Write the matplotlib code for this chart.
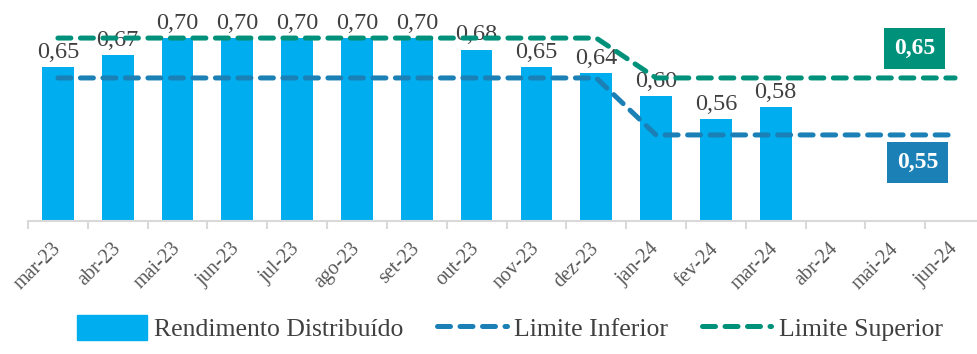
import matplotlib.pyplot as plt
from matplotlib.patches import Patch
from matplotlib.lines import Line2D

plt.rcParams['font.family'] = ['Liberation Serif', 'DejaVu Serif']

months = ['mar-23', 'abr-23', 'mai-23', 'jun-23', 'jul-23', 'ago-23', 'set-23', 'out-23',
          'nov-23', 'dez-23', 'jan-24', 'fev-24', 'mar-24', 'abr-24', 'mai-24', 'jun-24']
rendimento = [0.65, 0.67, 0.70, 0.70, 0.70, 0.70, 0.70, 0.68, 0.65, 0.64, 0.60, 0.56, 0.58]
limite_inf = [0.65] * 10 + [0.55] * 6
limite_sup = [0.72] * 10 + [0.65] * 6

bar_color = '#00AEEF'
inf_color = '#1A80B6'
sup_color = '#00917A'
txt_color = '#404040'

fig = plt.figure(figsize=(9.77, 3.54), dpi=100)
ax = fig.add_axes([28 / 977, 133 / 354, 957 / 977, 216 / 354])
ax2 = ax.twinx()

x = list(range(len(months)))
bars = ax.bar(x[:len(rendimento)], rendimento, width=0.53, color=bar_color, zorder=2)
for b, v in zip(bars, rendimento):
    ax.annotate(f'{v:.2f}'.replace('.', ','), (b.get_x() + b.get_width() / 2, v),
                xytext=(0, 3), textcoords='offset points', ha='center', va='bottom',
                fontsize=17.5, color=txt_color, zorder=5)

ls = dict(linewidth=3.6, dashes=(2.6, 1.9), dash_capstyle='round')
ax2.plot(x, limite_inf, color=inf_color, **ls)
ax2.plot(x, limite_sup, color=sup_color, **ls)

box_kw = dict(textcoords='offset points', ha='center', va='center',
              fontsize=17, fontweight='bold', color='white')
ax2.annotate(f'{limite_sup[-1]:.2f}'.replace('.', ','), (x[-1], limite_sup[-1]),
             xytext=(-29, 21), bbox=dict(boxstyle='square,pad=0.42', fc=sup_color, ec='none'),
             **box_kw)
ax2.annotate(f'{limite_inf[-1]:.2f}'.replace('.', ','), (x[-1], limite_inf[-1]),
             xytext=(-27, -20), bbox=dict(boxstyle='square,pad=0.42', fc=inf_color, ec='none'),
             **box_kw)

ax.set_xlim(-0.5, len(months) - 0.5)
ax.set_ylim(0.384, 0.757)
ax2.set_ylim(0.399, 0.778)

for a in (ax, ax2):
    for s in ('left', 'right', 'top'):
        a.spines[s].set_visible(False)
    a.set_yticks([])
ax2.spines['bottom'].set_visible(False)
ax.spines['bottom'].set_color('#D9D9D9')
ax.spines['bottom'].set_linewidth(1.5)

ax.set_xticks(x)
ax.set_xticklabels(months, rotation=45, ha='right', va='center', rotation_mode='anchor',
                   fontsize=14.5, color='#595959')
ax.tick_params(axis='x', which='major', length=0, pad=18)
ax.set_xticks([i - 0.5 for i in range(len(months) + 1)], minor=True)
ax.tick_params(axis='x', which='minor', length=6, width=1.5, color='#D9D9D9')

handles = [Patch(color=bar_color),
           Line2D([], [], color=inf_color, **ls),
           Line2D([], [], color=sup_color, **ls)]
fig.legend(handles, ['Rendimento Distribuído', 'Limite Inferior', 'Limite Superior'],
           loc='lower center', bbox_to_anchor=(0.522, -0.03), ncol=3, frameon=False,
           fontsize=18.5, labelcolor=txt_color, handlelength=2.7, handleheight=1.1,
           handletextpad=0.3, columnspacing=1.3)

fig.savefig('out.png', dpi=100)
